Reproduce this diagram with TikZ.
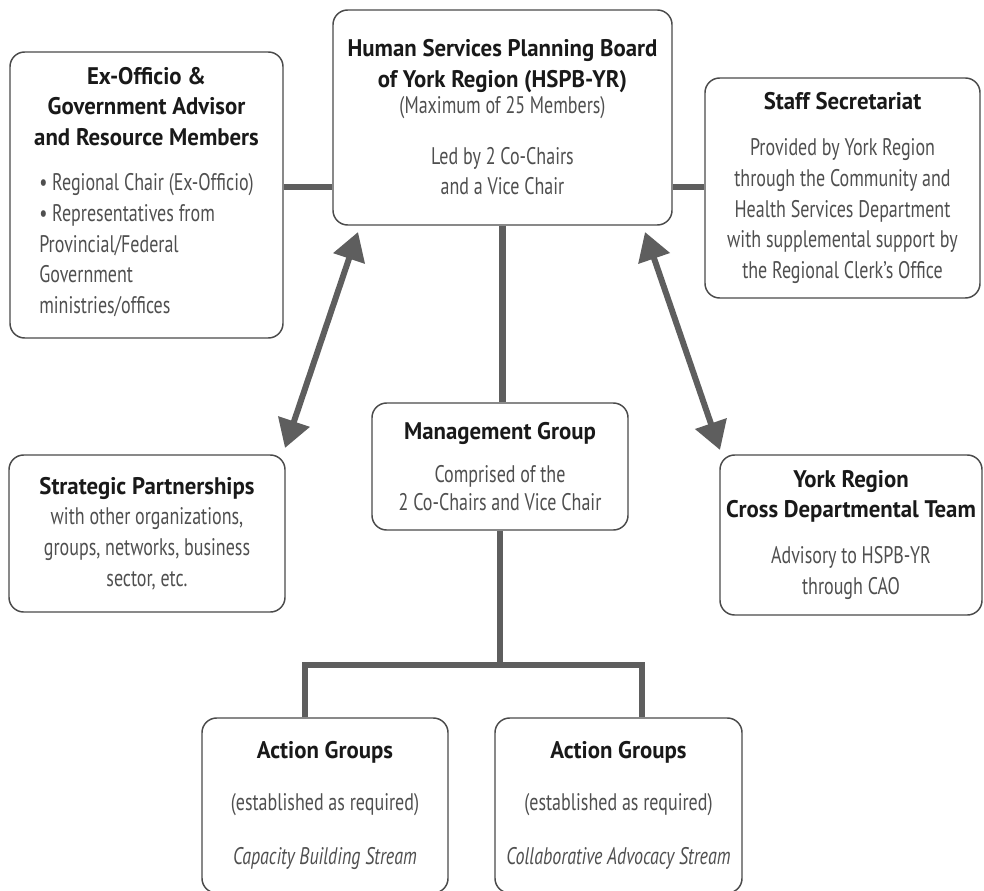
\documentclass[tikz,border=0pt]{standalone}
\usepackage{fontspec}
\setmainfont{PT Sans}[UprightFeatures={FakeStretch=0.75},
  BoldFeatures={FakeStretch=0.95}, ItalicFeatures={FakeStretch=0.75}]
\usepackage{xcolor}
\usetikzlibrary{arrows.meta, positioning}
\definecolor{linegray}{HTML}{5E5E5E}
\definecolor{framegray}{HTML}{4A4A4A}
\definecolor{textgray}{HTML}{4F4F4F}
\newcommand{\hd}[1]{{\bfseries\color{black!90}#1}}

\begin{document}
\begin{tikzpicture}[x=0.75pt, y=-0.75pt,
  box/.style={draw=framegray, line width=1.1pt, rounded corners=11pt, align=center,
    inner sep=0pt, fill=white, text=textgray, font=\fontsize{18}{23}\selectfont},
  link/.style={draw=linegray, line width=5pt},
  dbl/.style={draw=linegray, line width=4.5pt,
    {Triangle[length=21pt,width=24pt]}-{Triangle[length=21pt,width=24pt]}}]
\useasboundingbox (0,0) rectangle (984,891);

% boxes
\node[box, minimum width=204.75pt, minimum height=214.5pt] (exo) at (146.5,195)
  {\hd{Ex-Officio \&}\\ \hd{Government Advisor}\\ \hd{and Resource Members}\\[11pt]
   \begin{tabular}[t]{@{}l@{}}
   \textbullet\ Regional Chair (Ex-Officio)\\
   \textbullet\ Representatives from\\
   Provincial/Federal\\
   Government\\
   ministries/offices
   \end{tabular}};
\node[box, minimum width=254.25pt, minimum height=161.25pt] (hspb) at (502.5,117.5)
  {\hd{Human Services Planning Board}\\ \hd{of York Region (HSPB-YR)}\\[-3.5pt]
   (Maximum of 25 Members)\\[15pt] Led by 2 Co-Chairs\\ and a Vice Chair};
\node[box, minimum width=206.25pt, minimum height=165pt] (staff) at (842.5,188)
  {\hd{Staff Secretariat}\\[11.5pt] Provided by York Region\\ through the Community and\\
   Health Services Department\\ with supplemental support by\\ the Regional Clerk's Office};
\node[box, minimum width=207pt, minimum height=117.75pt] (strat) at (147,533.5)
  {\hd{Strategic Partnerships}\\ with other organizations,\\ groups, networks, business\\ sector, etc.};
\node[box, minimum width=192pt, minimum height=95.25pt] (mgmt) at (500,466.5)
  {\hd{Management Group}\\[9pt] Comprised of the\\[-2pt] 2 Co-Chairs and Vice Chair};
\node[box, minimum width=196.5pt, minimum height=120pt] (ycdt) at (851,535)
  {\hd{York Region}\\ \hd{Cross Departmental Team}\\[11.5pt] Advisory to HSPB-YR\\ through CAO};
\node[box, minimum width=184.5pt, minimum height=131.25pt] (agcap) at (325,805.5)
  {\hd{Action Groups}\\[16pt] (established as required)\\[18pt] \itshape Capacity Building Stream};
\node[box, minimum width=185.25pt, minimum height=131.25pt] (agadv) at (618.5,805.5)
  {\hd{Action Groups}\\[16pt] (established as required)\\[18pt] \itshape Collaborative Advocacy Stream};

% connectors
\coordinate (side) at (0,187);
\coordinate (forkL) at (305,665);
\coordinate (forkR) at (642,665);
\draw[link] (exo.east |- side) -- (hspb.west |- side);
\draw[link] (hspb.east |- side) -- (staff.west |- side);
\draw[link] (hspb.south) -- (hspb.south |- mgmt.north);
\draw[link] (mgmt.south) -- (mgmt.south |- forkL);
\draw[link, line join=miter] (forkL |- agcap.north) -- (forkL) -- (forkR) -- (forkR |- agadv.north);

% two-way arrows
\coordinate (tipLup) at (358,232);
\coordinate (tipLdn) at (285,448);
\coordinate (tipRup) at (645,232);
\coordinate (tipRdn) at (720,450);
\draw[dbl] (tipLup) -- (tipLdn);
\draw[dbl] (tipRup) -- (tipRdn);
\end{tikzpicture}
\end{document}
